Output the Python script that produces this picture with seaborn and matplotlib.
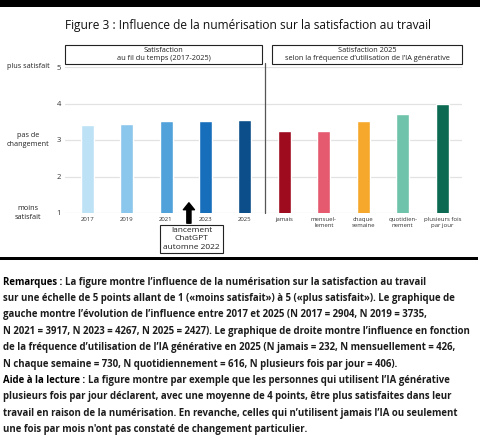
import numpy as np
import pandas as pd
import matplotlib
matplotlib.use("Agg")
import matplotlib.pyplot as plt
from matplotlib import font_manager
from matplotlib.patches import Rectangle
import seaborn as sns

# data
years = ["2017", "2019", "2021", "2023", "2025"]
years_vals = [3.41, 3.44, 3.51, 3.51, 3.55]
years_colors = ["#bde2f5", "#8bc7ec", "#51a1da", "#176fbb", "#0b4e8a"]

usage = ["jamais", "mensuellement", "chaque semaine", "quotidiennement", "plusieurs fois par jour"]
usage_labels = ["jamais", "mensuel-\nlement", "chaque\nsemaine", "quotidien-\nnement", "plusieurs fois\npar jour"]
usage_vals = [3.25, 3.25, 3.52, 3.72, 3.98]
usage_colors = ["#9e0b1f", "#e65a6f", "#f5a82b", "#6fc3aa", "#0b6a51"]

level_ticks = [1, 2, 3, 4, 5]
level_names = {5: "plus satisfait", 3: "pas de\nchangement", 1: "moins\nsatisfait"}

title = "Figure 3 : Influence de la numérisation sur la satisfaction au travail"
header_left = "Satisfaction\nau fil du temps (2017-2025)"
header_right = "Satisfaction 2025\nselon la fréquence d’utilisation de l’IA générative"
chatgpt_note = "lancement\nChatGPT\nautomne 2022"

notes = [
    ("Remarques : ", "La figure montre l’influence de la numérisation sur la satisfaction au travail"),
    ("", "sur une échelle de 5 points allant de 1 («moins satisfait») à 5 («plus satisfait»). Le graphique de"),
    ("", "gauche montre l’évolution de l’influence entre 2017 et 2025 (N 2017 = 2904, N 2019 = 3735,"),
    ("", "N 2021 = 3917, N 2023 = 4267, N 2025 = 2427). Le graphique de droite montre l’influence en fonction"),
    ("", "de la fréquence d’utilisation de l’IA générative en 2025 (N jamais = 232, N mensuellement = 426,"),
    ("", "N chaque semaine = 730, N quotidiennement = 616, N plusieurs fois par jour = 406)."),
    ("Aide à la lecture : ", "La figure montre par exemple que les personnes qui utilisent l’IA générative"),
    ("", "plusieurs fois par jour déclarent, avec une moyenne de 4 points, être plus satisfaites dans leur"),
    ("", "travail en raison de la numérisation. En revanche, celles qui n’utilisent jamais l’IA ou seulement"),
    ("", "une fois par mois n'ont pas constaté de changement particulier."),
]

sns.set_theme(style="white")
names = {f.name for f in font_manager.fontManager.ttflist}
FONT = next((n for n in ["Liberation Sans Narrow", "Open Sans", "DejaVu Sans"] if n in names), "DejaVu Sans")
plt.rcParams["font.family"] = [FONT, "DejaVu Sans"]

W, H = 480, 443
fig = plt.figure(figsize=(W / 100, H / 100), dpi=100)
fig.patch.set_facecolor("white")


def fx(px):
    return px / W


def fy(py):
    return 1 - py / H


renderer = fig.canvas.get_renderer()


def fit_size(txt, width_px, weight="normal"):
    t = fig.text(0, 0, txt, fontsize=10, fontweight=weight)
    w = t.get_window_extent(renderer).width
    t.remove()
    return 10 * width_px / w


# top black band and title
fig.add_artist(Rectangle((0, fy(7)), 1, 7 / H, transform=fig.transFigure, color="black", lw=0))
fig.text(fx(248), fy(25), title, ha="center", va="center",
         fontsize=fit_size(title, 367), color="#111111")

# chart
ax = fig.add_axes([fx(65), fy(213), fx(462) - fx(65), fy(67) - fy(213)])
df = pd.DataFrame({"cat": years + usage, "val": years_vals + usage_vals})
sns.barplot(data=df, x="cat", y="val", hue="cat", order=years + usage,
            palette=years_colors + usage_colors, width=0.33, legend=False,
            saturation=1, ax=ax)
ax.set_xlim(-0.56, 9.5)
ax.set_ylim(1, 5)
ax.set_yticks(level_ticks)
ax.set_yticklabels([str(v) for v in level_ticks], fontsize=5.5, color="#333333")
ax.set_xticks(range(10))
ax.set_xticklabels(years + usage_labels, fontsize=4.3, color="#333333", linespacing=1.3)
ax.tick_params(axis="both", length=0, pad=3)
ax.tick_params(axis="y", pad=3)
ax.set_xlabel("")
ax.set_ylabel("")
ax.grid(axis="y", color="#e2e2e2", lw=0.9)
ax.set_axisbelow(True)
for s in ax.spines.values():
    s.set_visible(False)
ax.plot([4.5, 4.5], [1, 5.12], color="#555555", lw=0.9, clip_on=False)

for v, name in level_names.items():
    fig.text(fx(28), fy(213 - (v - 1) * 36.5), name, ha="center", va="center",
             fontsize=5.2, color="#222222", linespacing=1.3)

# headers
for x0, x1, txt in [(65, 262, header_left), (272, 462, header_right)]:
    fig.add_artist(Rectangle((fx(x0), fy(64)), fx(x1) - fx(x0), 19 / H,
                             transform=fig.transFigure, fill=False, ec="#222222", lw=0.8))
    fig.text(fx((x0 + x1) / 2), fy(54.5), txt, ha="center", va="center",
             fontsize=5.3, color="#222222", linespacing=1.35)

# ChatGPT arrow and note
ax.annotate("", xy=(2.58, 1.28), xytext=(2.58, 0.72), annotation_clip=False,
            arrowprops=dict(width=3, headwidth=8, headlength=5, color="black", shrink=0))
fig.add_artist(Rectangle((fx(160), fy(253)), fx(223) - fx(160), 28 / H,
                         transform=fig.transFigure, fill=False, ec="#222222", lw=0.8))
fig.text(fx(191.5), fy(239), chatgpt_note, ha="center", va="center",
         fontsize=6.0, color="#222222", linespacing=1.25)

# bottom rule and notes
fig.add_artist(Rectangle((0, fy(260)), fx(478), 3 / H, transform=fig.transFigure, color="black", lw=0))
body_size = fit_size(notes[3][1], 471, weight="bold")
for i, (lead, body) in enumerate(notes):
    y = fy(282 + i * 16.4)
    x = fx(3)
    if lead:
        t = fig.text(x, y, lead, ha="left", va="center", fontsize=body_size,
                     fontweight="bold", color="black")
        x += t.get_window_extent(renderer).width / W
    fig.text(x, y, body, ha="left", va="center", fontsize=body_size,
             fontweight="bold", color="#1c1c1c")

fig.savefig("out.png", dpi=100)
